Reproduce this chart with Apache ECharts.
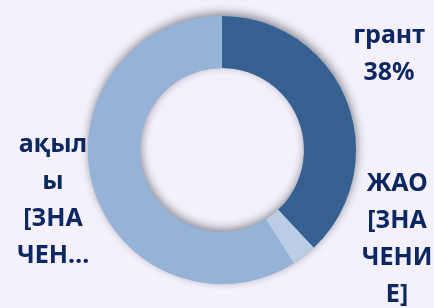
<!DOCTYPE html>
<html>
<head>
<meta charset="utf-8">
<script src="https://cdn.jsdelivr.net/npm/echarts@6/dist/echarts.min.js"></script>
<style>
  html, body { margin: 0; padding: 0; background: #f4f1fc; }
  #chart { width: 434px; height: 308px; }
</style>
</head>
<body>
<div id="chart"></div>
<script>
var categories = ["грант", "ЖАО", "ақылы"];
var values = [38, 3, 59];
var labelTexts = ["грант\n38%", "ЖАО\n[ЗНА\nЧЕНИ\nЕ]", "ақыл\nы\n[ЗНА\nЧЕН…"];
var colors = ["#376092", "#b9cde5", "#95b3d7"];

// where each label sits (px, centre of text block)
var labelSpots = [[389, 54], [397, 239], [53, 200]];

var chartDom = document.getElementById("chart");
var myChart = echarts.init(chartDom);

var option = {
  backgroundColor: "#f4f1fc",
  animation: false,
  series: [
    {
      // shadow under the whole ring
      type: "pie",
      silent: true,
      center: [222, 150],
      radius: [82, 134],
      label: { show: false },
      labelLine: { show: false },
      itemStyle: {
        color: "#95b3d7",
        shadowBlur: 10,
        shadowOffsetX: 1,
        shadowOffsetY: -3,
        shadowColor: "rgba(0,0,0,0.45)"
      },
      data: [{ value: 1, name: "" }]
    },
    {
      type: "pie",
      center: [222, 150],
      radius: [82, 134],
      startAngle: 90,
      clockwise: true,
      avoidLabelOverlap: false,
      itemStyle: { borderWidth: 0 },
      label: {
        show: true,
        position: "outside",
        formatter: function (p) {
          return labelTexts[p.dataIndex];
        },
        color: "#0c2862",
        fontFamily: "Noto Sans",
        fontWeight: "bold",
        fontSize: 25,
        lineHeight: 37,
        align: "center"
      },
      labelLine: { show: false },
      labelLayout: function (params) {
        var s = labelSpots[params.dataIndex];
        return { x: s[0], y: s[1], align: "center", verticalAlign: "middle" };
      },
      data: categories.map(function (c, i) {
        return { name: c, value: values[i], itemStyle: { color: colors[i] } };
      })
    }
  ]
};

myChart.setOption(option);
window.addEventListener("resize", myChart.resize);
</script>
</body>
</html>
